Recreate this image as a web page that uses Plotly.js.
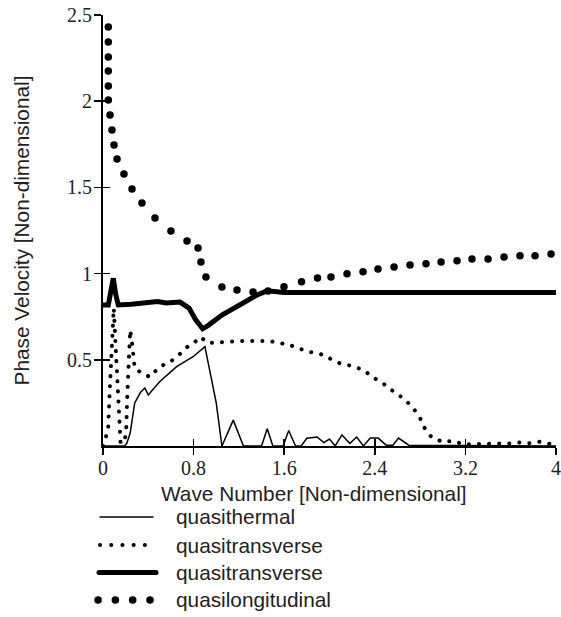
<!DOCTYPE html>
<html>
<head>
<meta charset="utf-8">
<script src="https://cdn.plot.ly/plotly-3.0.1.min.js"></script>
<style>
  html, body { margin: 0; padding: 0; background: #fff; overflow: hidden; }
  #chart { width: 561px; height: 617px; }
  .js-line, .shapelayer path { stroke-linecap: round; }
</style>
</head>
<body>
<div id="chart"></div>
<script>
// ---- data ----
const xTickVals = [0, 0.8, 1.6, 2.4, 3.2, 4];
const xTickText = ['0', '0.8', '1.6', '2.4', '3.2', '4'];
const yTickVals = [0.5, 1, 1.5, 2, 2.5];
const yTickText = ['0.5', '1', '1.5', '2', '2.5'];

const xTitle = 'Wave Number [Non-dimensional]';
const yTitle = 'Phase Velocity [Non-dimensional]';
const seriesNames = ['quasithermal', 'quasitransverse', 'quasitransverse', 'quasilongitudinal'];

// quasithermal (thin solid)
const thermalK = [0, 0.19, 0.21, 0.24, 0.28, 0.33, 0.37, 0.40, 0.50, 0.65, 0.795, 0.9, 1.0, 1.05, 1.15, 1.24, 1.4, 1.45, 1.5, 1.59, 1.64, 1.7, 1.75, 1.8, 1.89, 1.95, 2.0, 2.05, 2.11, 2.18, 2.24, 2.3, 2.36, 2.43, 2.5, 2.56, 2.61, 2.7, 4];
const thermalV = [0, 0, 0.015, 0.075, 0.25, 0.31, 0.336, 0.296, 0.373, 0.46, 0.518, 0.576, 0.25, 0, 0.15, 0, 0, 0.1, 0, 0, 0.09, 0, 0, 0.045, 0.052, 0.02, 0.04, 0, 0.064, 0.015, 0.052, 0, 0.046, 0.046, 0.005, 0.005, 0.046, 0.005, 0];

// quasitransverse (small dots)
const transDotK = [0, 0.02, 0.045, 0.062, 0.079, 0.095, 0.11, 0.124, 0.141, 0.155, 0.19, 0.205, 0.215, 0.228, 0.24, 0.26, 0.28, 0.35, 0.415, 0.5, 0.59, 0.65, 0.77, 0.84, 0.86, 0.93, 1.03, 1.21, 1.47, 1.65, 1.74, 1.83, 1.92, 2.0, 2.09, 2.2, 2.3, 2.38, 2.47, 2.56, 2.66, 2.74, 2.8, 2.84, 2.9, 3.0, 3.09, 3.18, 3.3, 3.45, 3.6, 3.68, 3.75, 3.85, 4.0];
const transDotV = [0, 0.035, 0.093, 0.354, 0.615, 0.8, 0.6, 0.394, 0.104, 0.02, 0.02, 0.1, 0.3, 0.5, 0.673, 0.58, 0.45, 0.42, 0.40, 0.46, 0.487, 0.516, 0.59, 0.615, 0.632, 0.597, 0.603, 0.609, 0.609, 0.586, 0.563, 0.545, 0.534, 0.51, 0.48, 0.464, 0.441, 0.40, 0.365, 0.319, 0.273, 0.22, 0.162, 0.104, 0.052, 0.023, 0.03, 0.01, 0.01, 0.01, 0.015, 0.02, 0.015, 0.025, 0.005];

// quasitransverse (thick solid)
const transSolidK = [0, 0.047, 0.07, 0.091, 0.112, 0.135, 0.25, 0.4, 0.48, 0.56, 0.68, 0.76, 0.82, 0.88, 0.93, 1.05, 1.21, 1.36, 1.45, 1.52, 1.6, 4];
const transSolidV = [0.818, 0.818, 0.9, 0.973, 0.88, 0.818, 0.822, 0.83, 0.838, 0.83, 0.835, 0.80, 0.73, 0.68, 0.70, 0.76, 0.818, 0.876, 0.9, 0.897, 0.89, 0.89];

// quasilongitudinal (big dots)
const longK = [0.047, 0.047, 0.047, 0.047, 0.047, 0.047, 0.062, 0.079, 0.097, 0.124, 0.185, 0.256, 0.344, 0.459, 0.60, 0.742, 0.839, 0.865, 0.909, 1.05, 1.183, 1.325, 1.457, 1.598, 1.753, 1.894, 2.013, 2.155, 2.296, 2.428, 2.57, 2.711, 2.852, 2.985, 3.126, 3.258, 3.4, 3.541, 3.682, 3.815, 3.956];
const longV = [2.43, 2.343, 2.256, 2.175, 2.088, 2.007, 1.92, 1.833, 1.746, 1.665, 1.578, 1.491, 1.41, 1.323, 1.247, 1.189, 1.148, 1.067, 0.98, 0.922, 0.905, 0.893, 0.899, 0.924, 0.953, 0.974, 0.98, 0.999, 1.011, 1.027, 1.038, 1.05, 1.057, 1.067, 1.075, 1.085, 1.085, 1.096, 1.104, 1.104, 1.114];

const ink = '#000';
const textInk = '#222';
const sansFam = '"Liberation Sans", Arial, sans-serif';

// line styles per series (used for the curves and the legend samples)
const styles = [
  { color: ink, width: 1.5 },
  { color: ink, width: 4, dash: '0.1px,11.1px' },
  { color: ink, width: 5 },
  { color: ink, width: 7.5, dash: '0.1px,17.2px' }
];

const traces = [
  { x: thermalK, y: thermalV, mode: 'lines', name: seriesNames[0], line: styles[0] },
  { x: transDotK, y: transDotV, mode: 'lines', name: seriesNames[1],
    line: { color: ink, width: 4, dash: '0.1px,10px' } },
  { x: transSolidK, y: transSolidV, mode: 'lines', name: seriesNames[2], line: styles[2] },
  { x: longK, y: longV, mode: 'markers', name: seriesNames[3], marker: { color: ink, size: 7.5 } },
  // overlay axes for the inner halves of the crossing ticks
  { x: [], y: [], xaxis: 'x2', yaxis: 'y2', showlegend: false, hoverinfo: 'skip' }
];

// ---- hand-placed legend below the plot (paper coordinates) ----
const legendRowY = [-0.1647, -0.2297, -0.2935, -0.3573];
const legendSampleX = [[-0.0066, 0.1104], [-0.0066, 0.0927], [-0.0088, 0.1170], [-0.011, 0.104]];
const legendTextX = 0.157;

const shapes = seriesNames.map((n, i) => ({
  type: 'line', xref: 'paper', yref: 'paper',
  x0: legendSampleX[i][0], x1: legendSampleX[i][1], y0: legendRowY[i], y1: legendRowY[i],
  line: styles[i]
}));
const annotations = seriesNames.map((n, i) => ({
  xref: 'paper', yref: 'paper', x: legendTextX, y: legendRowY[i],
  xanchor: 'left', yanchor: 'middle', showarrow: false, text: n,
  font: { family: sansFam, size: 20.8, color: textInk }
}));
annotations.push({
  xref: 'paper', yref: 'paper', x: 0.4658, y: -0.111, xanchor: 'center', yanchor: 'middle',
  showarrow: false, text: xTitle, font: { family: sansFam, size: 20.8, color: textInk }
});

const tickFont = { family: '"Liberation Serif", "Times New Roman", serif', size: 20, color: textInk };
const titleFont = { family: sansFam, size: 20.8, color: textInk };

const layout = {
  width: 561, height: 617,
  margin: { l: 103, r: 5, t: 15, b: 171, autoexpand: false },
  paper_bgcolor: '#fff', plot_bgcolor: '#fff',
  showlegend: false,
  shapes: shapes,
  annotations: annotations,
  xaxis: {
    range: [0, 4], tickmode: 'array', tickvals: xTickVals, ticktext: xTickText,
    showgrid: false, zeroline: false, showline: true, linecolor: ink, linewidth: 2,
    ticks: 'outside', ticklen: 7, tickwidth: 1.5, tickcolor: ink, ticklabelstandoff: -4,
    tickfont: tickFont, automargin: false, fixedrange: true
  },
  yaxis: {
    range: [0, 2.5], tickmode: 'array', tickvals: yTickVals, ticktext: yTickText,
    showgrid: false, zeroline: false, showline: true, linecolor: ink, linewidth: 2,
    ticks: 'outside', ticklen: 7, tickwidth: 1.5, tickcolor: ink, ticklabelstandoff: -2,
    tickfont: tickFont, automargin: false,
    title: { text: yTitle, font: titleFont, standoff: 32 },
    fixedrange: true
  },
  xaxis2: {
    overlaying: 'x', anchor: 'y2', range: [0, 4], tickmode: 'array', tickvals: xTickVals,
    showticklabels: false, showgrid: false, zeroline: false, showline: false,
    ticks: 'inside', ticklen: 7, tickwidth: 1.5, tickcolor: ink, fixedrange: true
  },
  yaxis2: {
    overlaying: 'y', anchor: 'x2', range: [0, 2.5], tickmode: 'array', tickvals: yTickVals,
    showticklabels: false, showgrid: false, zeroline: false, showline: false,
    ticks: 'inside', ticklen: 7, tickwidth: 1.5, tickcolor: ink, fixedrange: true
  }
};

Plotly.newPlot('chart', traces, layout, { displayModeBar: false, staticPlot: true });
</script>
</body>
</html>
